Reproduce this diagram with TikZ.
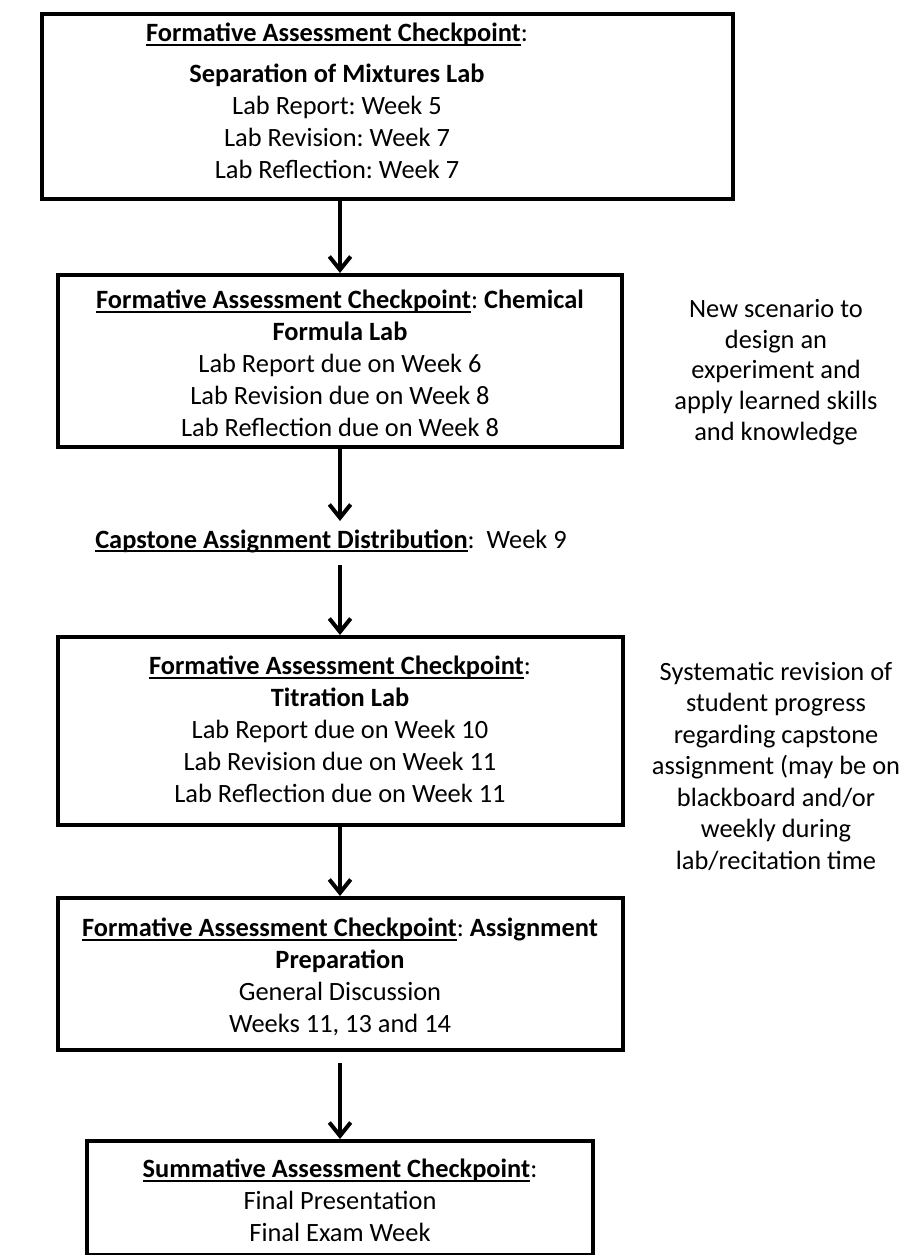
\documentclass[tikz,border=0pt]{standalone}
\usepackage{fontspec}
\setmainfont{Carlito}
\usetikzlibrary{arrows.meta}
\frenchspacing
\newcommand{\ulb}[1]{\setbox0=\hbox{\bfseries #1}\rlap{\rule[-3.2pt]{\wd0}{1.6pt}}\box0}
\begin{document}
\begin{tikzpicture}[x=0.75pt,y=-0.75pt,
  box/.style={draw, line width=3pt, inner sep=0pt, anchor=north},
  txt/.style={font=\fontsize{19.8}{24}\selectfont, align=center, inner sep=0pt, anchor=north},
  side/.style={font=\fontsize{19.8}{23}\selectfont, align=center, inner sep=0pt, anchor=north},
  arr/.style={line width=3pt, -{Straight Barb[length=10pt,width=16pt]}}]
\useasboundingbox (0,0) rectangle (907,1255);
% boxes
\node[box, anchor=north west, minimum width=518pt, minimum height=138.75pt] (b1) at (40,12) {};
\node[box, minimum width=423pt, minimum height=129pt] (b2) at (340,273) {};
\node[box, minimum width=423.75pt, minimum height=141pt] (b3) at (340,635) {};
\node[box, minimum width=423.75pt, minimum height=114pt] (b4) at (340,896) {};
\node[box, minimum width=379.5pt, minimum height=85.5pt] (b5) at (340,1139) {};
% texts
\node[txt] (t1) at (337,23) {\ulb{Formative Assessment Checkpoint}:\\[6.75pt]\textbf{Separation of Mixtures Lab}\\Lab Report: Week 5\\Lab Revision: Week 7\\Lab Reflection: Week 7};
\node[txt] (t2) at (340,290) {\ulb{Formative Assessment Checkpoint}: \textbf{Chemical}\\\textbf{Formula Lab}\\Lab Report due on Week 6\\Lab Revision due on Week 8\\Lab Reflection due on Week 8};
\node[txt] (t3) at (340,656) {\ulb{Formative Assessment Checkpoint}:\\\textbf{Titration Lab}\\Lab Report due on Week 10\\Lab Revision due on Week 11\\Lab Reflection due on Week 11};
\node[txt] (t4) at (340,918) {\ulb{Formative Assessment Checkpoint}: \textbf{Assignment}\\\textbf{Preparation}\\General Discussion\\Weeks 11, 13 and 14};
\node[txt] (t5) at (340,1159) {\ulb{Summative Assessment Checkpoint}:\\Final Presentation\\Final Exam Week};
\node[font=\fontsize{19.8}{24}\selectfont, inner sep=0pt, anchor=base west] (cap) at (95,548) {\ulb{Capstone Assignment Distribution}:\ \ Week 9};
\node[side] (s1) at (776,299) {New scenario to\\design an\\experiment and\\apply learned skills\\and knowledge};
\node[side, font=\fontsize{19.8}{23.6}\selectfont] (s2) at (776,662) {Systematic revision of\\student progress\\regarding capstone\\assignment (may be on\\blackboard and/or\\weekly during\\lab/recitation time};
% connectors
\coordinate (a2) at (340,521);
\coordinate (a3) at (340,565);
\coordinate (a5) at (340,1063);
\draw[arr] (b2.north |- b1.south) -- (b2.north);
\draw[arr] (b2.south) -- (a2);
\draw[arr] (a3) -- (b3.north);
\draw[arr] (b3.south) -- (b4.north);
\draw[arr] (a5) -- (b5.north);
\end{tikzpicture}
\end{document}
